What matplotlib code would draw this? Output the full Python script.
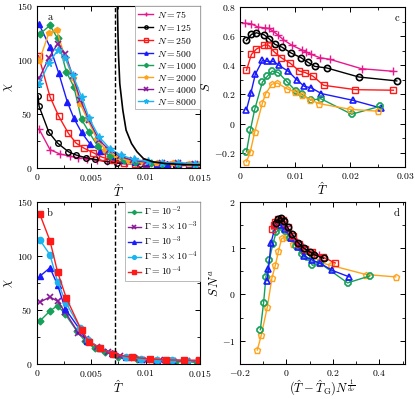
import numpy as np
import matplotlib
matplotlib.use('Agg')
import matplotlib.pyplot as plt
from matplotlib.ticker import FuncFormatter, MultipleLocator, AutoMinorLocator

plt.rcParams['font.family'] = 'serif'
plt.rcParams['font.serif'] = ['cmr10', 'DejaVu Serif']
plt.rcParams['mathtext.fontset'] = 'cm'
plt.rcParams['axes.formatter.use_mathtext'] = True
plt.rcParams['xtick.direction'] = 'in'
plt.rcParams['ytick.direction'] = 'in'
plt.rcParams['xtick.top'] = True
plt.rcParams['ytick.right'] = True
plt.rcParams['axes.linewidth'] = 0.8

# ---------------- panel a: chi vs T for several N ----------------
N_labels = ['75', '125', '250', '500', '1000', '2000', '4000', '8000']

T_n75 = [0.0002, 0.0012, 0.0021, 0.0030, 0.0038, 0.0046, 0.0055, 0.0064, 0.0073, 0.0082,
         0.0092, 0.0102, 0.0112, 0.0122, 0.0132, 0.0142, 0.0150]
chi_n75 = [36, 17, 13, 11, 9.4, 8.7, 7.5, 6.3, 5.3, 4.6, 4.0, 3.5, 3.2, 3.0, 2.8, 2.6, 2.5]

T_n125 = [0.0001, 0.0002, 0.0011, 0.0019, 0.0029, 0.0036, 0.0045, 0.0053, 0.0064, 0.0074,
          0.0095, 0.0114, 0.0128, 0.0140]
chi_n125 = [67, 57, 33, 23, 15, 12, 9.5, 8, 6, 4.5, 3.5, 3.0, 2.5, 2.3]

T_n250 = [0.00015, 0.0012, 0.0020, 0.0029, 0.0036, 0.0043, 0.0052, 0.0060, 0.0070, 0.0080,
          0.0090, 0.0100, 0.0110, 0.0120, 0.0130, 0.0140, 0.0150]
chi_n250 = [104, 66, 48, 32, 23, 18.5, 14, 10, 7, 5, 4, 3.5, 3, 2.8, 2.6, 2.5, 2.5]

T_n500 = [0.0002, 0.0012, 0.0020, 0.0028, 0.0034, 0.0041, 0.0049, 0.0058, 0.0069, 0.0080,
          0.0090, 0.0100, 0.0110, 0.0120, 0.0130, 0.0140, 0.0150]
chi_n500 = [133, 112, 88, 61, 46, 33, 22, 16, 11, 7, 5.5, 4.5, 4, 3.5, 3.2, 3, 3]

T_n1000 = [0.00025, 0.0012, 0.0019, 0.0027, 0.0034, 0.0041, 0.0048, 0.0056, 0.0067, 0.0080,
           0.0090, 0.0105, 0.0115, 0.0130, 0.0145]
chi_n1000 = [124, 132, 120, 89, 75, 45, 33, 20, 11, 7, 5.5, 4.5, 4, 3.5, 3]

T_n2000 = [0.0002, 0.0011, 0.0018, 0.0026, 0.0033, 0.0040, 0.0047, 0.0055, 0.0063, 0.0074,
           0.0085, 0.0098, 0.0110, 0.0125, 0.0140, 0.0150]
chi_n2000 = [99, 125, 128, 102, 83, 59, 44, 27, 17, 10, 6.5, 5.5, 5, 4.5, 4, 4]

T_n4000 = [0.0002, 0.0011, 0.0019, 0.0026, 0.0033, 0.0040, 0.0048, 0.0057, 0.0066, 0.0076,
           0.0088, 0.0100, 0.0115, 0.0130, 0.0145]
chi_n4000 = [83, 102, 115, 106, 85, 63, 44, 26, 17, 11, 7, 5.5, 5, 4.5, 4]

T_n8000 = [0.0002, 0.0011, 0.0019, 0.0026, 0.0033, 0.0041, 0.0048, 0.0057, 0.0067, 0.0077,
           0.0089, 0.0102, 0.0115, 0.0130, 0.0145]
chi_n8000 = [78, 97, 109, 102, 86, 66, 46, 29, 18, 12, 8, 6, 5, 4.5, 4]

# fitted divergence curve in panel a
T_fit = [0.0074, 0.00745, 0.0075, 0.00762, 0.0079, 0.0082, 0.0087, 0.0092, 0.0098,
         0.0107, 0.0119, 0.0138, 0.0150]
chi_fit = [150, 125, 105, 78, 53.5, 35, 22.6, 15, 8.7, 5.6, 4.0, 3.0, 2.8]
T_G = 0.00722

# ---------------- panel b: chi vs T for several Gamma ----------------
G_labels = [r'$\Gamma = 10^{-2}$', r'$\Gamma = 3\times10^{-3}$', r'$\Gamma = 10^{-3}$',
            r'$\Gamma = 3\times10^{-4}$', r'$\Gamma = 10^{-4}$']

T_g1 = [0.0003, 0.0012, 0.0019, 0.0026, 0.0037, 0.0044, 0.0053, 0.0063, 0.0075, 0.0092,
        0.0109, 0.0127, 0.0147]
chi_g1 = [40, 49, 54, 46, 30, 21.5, 14.5, 10.8, 6.8, 4.6, 3, 2.2, 1.5]

T_g2 = [0.00025, 0.0012, 0.0019, 0.0026, 0.0038, 0.0045, 0.0055, 0.0065, 0.0076, 0.0089,
        0.0101, 0.0113, 0.0125, 0.0138, 0.0149]
chi_g2 = [57, 62, 58, 48, 29, 23, 16, 11.4, 7.7, 5.2, 4, 3.4, 3.1, 2.8, 2.8]

T_g3 = [0.00025, 0.0012, 0.0019, 0.0026, 0.0040, 0.0046, 0.0058, 0.0069, 0.0082, 0.0096,
        0.0110, 0.0124, 0.0138, 0.0149]
chi_g3 = [81, 89, 73, 51, 31, 21.5, 15, 10, 6.5, 4.9, 4, 3.4, 3, 3]

T_g4 = [0.00025, 0.0012, 0.0019, 0.0027, 0.0040, 0.0047, 0.0058, 0.0070, 0.0082, 0.0096,
        0.0110, 0.0124, 0.0138, 0.0149]
chi_g4 = [115, 101, 76, 56, 33, 22, 14.5, 9.5, 6.5, 4.6, 3.7, 3.4, 3, 3]

T_g5 = [0.00025, 0.0012, 0.0019, 0.0027, 0.0041, 0.0048, 0.0058, 0.0070, 0.0087, 0.0104,
        0.0119, 0.0135, 0.0149]
chi_g5 = [139, 114, 85, 61, 31, 20, 14.5, 9, 6.2, 4.6, 3.7, 3.4, 3.4]

# ---------------- panel c: S vs T ----------------
Tc_n75 = [0.0009, 0.0021, 0.0033, 0.0045, 0.0053, 0.0061, 0.0070, 0.0079, 0.0095, 0.0112,
          0.0121, 0.0130, 0.0145, 0.0164, 0.0221, 0.0279]
S_n75 = [0.69, 0.686, 0.663, 0.658, 0.654, 0.633, 0.606, 0.576, 0.537, 0.507, 0.491, 0.475,
         0.453, 0.441, 0.377, 0.359]

Tc_n125 = [0.0012, 0.0021, 0.0030, 0.0044, 0.0053, 0.0064, 0.0076, 0.0093, 0.0111, 0.0123,
           0.0136, 0.0158, 0.0216, 0.0285]
S_n125 = [0.571, 0.613, 0.624, 0.61, 0.583, 0.544, 0.526, 0.485, 0.453, 0.423, 0.393, 0.382,
          0.32, 0.293]

Tc_n250 = [0.0012, 0.0021, 0.0030, 0.0044, 0.0052, 0.0062, 0.0075, 0.0091, 0.0108, 0.0119,
           0.0133, 0.0152, 0.0210, 0.0279]
S_n250 = [0.366, 0.475, 0.512, 0.539, 0.539, 0.494, 0.453, 0.416, 0.361, 0.35, 0.325, 0.263,
          0.233, 0.229]

Tc_n500 = [0.0012, 0.0020, 0.0028, 0.0041, 0.0050, 0.0061, 0.0071, 0.0088, 0.0103, 0.0117,
           0.0130, 0.0148, 0.0205, 0.0257]
S_n500 = [0.096, 0.21, 0.338, 0.434, 0.427, 0.427, 0.4, 0.359, 0.302, 0.256, 0.245, 0.206,
          0.16, 0.106]

Tc_n1000 = [0.0012, 0.0019, 0.0027, 0.0041, 0.0050, 0.0059, 0.0070, 0.0086, 0.0102, 0.0113,
            0.0129, 0.0147, 0.0203, 0.0255]
S_n1000 = [-0.194, -0.046, 0.098, 0.286, 0.325, 0.361, 0.35, 0.286, 0.222, 0.2, 0.16, 0.171,
           0.064, 0.119]

Tc_n2000 = [0.0012, 0.0019, 0.0027, 0.0041, 0.0047, 0.0058, 0.0068, 0.0085, 0.0101, 0.0113,
            0.0127, 0.0144, 0.0200, 0.0250]
S_n2000 = [-0.263, -0.194, -0.057, 0.142, 0.206, 0.27, 0.279, 0.24, 0.217, 0.194, 0.165,
           0.137, 0.098, 0.085]

# ---------------- panel d: scaled S ----------------
X_n75 = [-0.03, -0.015, 0.0, 0.02, 0.045, 0.07, 0.095, 0.12, 0.14]
Y_n75 = [1.62, 1.58, 1.48, 1.32, 1.14, 1.02, 0.93, 0.88, 0.85]

X_n125 = [-0.045, -0.034, -0.022, -0.01, 0.005, 0.025, 0.05, 0.075, 0.1, 0.12, 0.16]
Y_n125 = [1.55, 1.63, 1.65, 1.58, 1.45, 1.3, 1.12, 1.0, 0.92, 0.86, 0.78]

X_n250 = [-0.062, -0.055, -0.048, -0.034, -0.015, 0.005, 0.029, 0.054, 0.08, 0.11, 0.156, 0.21]
Y_n250 = [1.41, 1.5, 1.56, 1.63, 1.61, 1.45, 1.27, 1.09, 0.98, 0.91, 0.81, 0.68]

X_n500 = [-0.083, -0.077, -0.066, -0.047, -0.029, -0.007, 0.019, 0.051, 0.077, 0.112, 0.146,
          0.197, 0.27]
Y_n500 = [0.3, 0.54, 1.12, 1.49, 1.5, 1.41, 1.23, 1.03, 0.83, 0.74, 0.67, 0.52, 0.38]

X_n1000 = [-0.112, -0.098, -0.088, -0.073, -0.058, -0.044, -0.025, -0.007, 0.015, 0.04, 0.066,
           0.088, 0.112, 0.146, 0.263, 0.358]
Y_n1000 = [-0.76, -0.18, 0.38, 0.75, 1.1, 1.34, 1.45, 1.38, 1.23, 1.05, 0.87, 0.8, 0.63, 0.67,
           0.25, 0.4]

X_n2000 = [-0.125, -0.108, -0.082, -0.062, -0.047, -0.034, -0.02, 0.0, 0.029, 0.066,
           0.11, 0.146, 0.19, 0.343, 0.47]
Y_n2000 = [-1.2, -0.88, -0.27, 0.36, 0.64, 0.94, 1.21, 1.25, 1.1, 0.96, 0.87, 0.69,
           0.63, 0.43, 0.38]

# styles
col = {'75': '#e8188c', '125': 'black', '250': '#ff1a1a', '500': '#1a1aff',
       '1000': '#16a05a', '2000': '#ffa31a', '4000': '#8b1a9a', '8000': '#1ab4f0'}


def sci_fmt(v, pos):
    if abs(v) < 1e-12:
        return r'$0$'
    return r'$%g$' % v


def style_axes(ax, xmaj, ymaj):
    ax.xaxis.set_major_locator(MultipleLocator(xmaj))
    ax.yaxis.set_major_locator(MultipleLocator(ymaj))
    ax.xaxis.set_minor_locator(AutoMinorLocator(2))
    ax.yaxis.set_minor_locator(AutoMinorLocator(2))
    ax.xaxis.set_major_formatter(FuncFormatter(sci_fmt))
    ax.yaxis.set_major_formatter(FuncFormatter(sci_fmt))
    ax.tick_params(which='major', length=3.5, width=0.7, labelsize=7, pad=3)
    ax.tick_params(which='minor', length=2, width=0.6)


fig = plt.figure(figsize=(4.15, 3.99), dpi=100)
axa = fig.add_axes([0.089, 0.579, 0.393, 0.406])
axc = fig.add_axes([0.578, 0.581, 0.398, 0.401])
axb = fig.add_axes([0.089, 0.088, 0.393, 0.406])
axd = fig.add_axes([0.578, 0.088, 0.398, 0.406])

lw = 1.0
ms = 4

# panel a
series_a = [
    (T_n75, chi_n75, '75', dict(marker='+', ms=6, mfc=col['75'])),
    (T_n125, chi_n125, '125', dict(marker='o', mfc='none', mew=1.0)),
    (T_n250, chi_n250, '250', dict(marker='s', mfc='none', mew=1.0)),
    (T_n500, chi_n500, '500', dict(marker='^')),
    (T_n1000, chi_n1000, '1000', dict(marker='D', ms=3.5)),
    (T_n2000, chi_n2000, '2000', dict(marker='p')),
    (T_n4000, chi_n4000, '4000', dict(marker='x', mew=1.2)),
    (T_n8000, chi_n8000, '8000', dict(marker='*', ms=5.5)),
]
for T, c, n, kw in series_a:
    kw = dict(kw)
    kw.setdefault('ms', ms)
    axa.plot(T, c, color=col[n], lw=lw, label=r'$N = %s$' % n, **kw)
axa.plot(T_fit, chi_fit, color='black', lw=1.2)
axa.axvline(T_G, color='black', ls=(0, (3, 1.5)), lw=1.0)
axa.set_xlim(0, 0.015)
axa.set_ylim(0, 150)
style_axes(axa, 0.005, 50)
axa.set_xlabel(r'$\hat{T}$', fontsize=9, labelpad=0)
axa.set_ylabel(r'$\chi$', fontsize=9, labelpad=1)
axa.text(0.08, 0.93, 'a', transform=axa.transAxes, fontsize=7.5, fontweight='bold',
         va='center', ha='center')
leg = axa.legend(loc='upper right', fontsize=7, handlelength=1.6, handletextpad=0.4,
                 labelspacing=0.2, borderpad=0.3, markerscale=0.6, borderaxespad=0.0,
                 fancybox=False, framealpha=1.0)
leg.get_frame().set_edgecolor('#b0b0b0')
leg.get_frame().set_linewidth(0.6)

# panel b
series_b = [
    (T_g1, chi_g1, '1000', dict(marker='D', ms=3.5)),
    (T_g2, chi_g2, '4000', dict(marker='x', mew=1.2)),
    (T_g3, chi_g3, '500', dict(marker='^')),
    (T_g4, chi_g4, '8000', dict(marker='o')),
    (T_g5, chi_g5, '250', dict(marker='s')),
]
for (T, c, n, kw), lab in zip(series_b, G_labels):
    kw = dict(kw)
    kw.setdefault('ms', 4.5)
    axb.plot(T, c, color=col[n], lw=lw, label=lab, **kw)
axb.axvline(T_G, color='black', ls=(0, (3, 1.5)), lw=1.0)
axb.set_xlim(0, 0.015)
axb.set_ylim(0, 150)
style_axes(axb, 0.005, 50)
axb.set_xlabel(r'$\hat{T}$', fontsize=9, labelpad=0)
axb.set_ylabel(r'$\chi$', fontsize=9, labelpad=1)
axb.text(0.08, 0.93, 'b', transform=axb.transAxes, fontsize=7.5, fontweight='bold',
         va='center', ha='center')
leg = axb.legend(loc='upper right', fontsize=7, handlelength=1.3, handletextpad=0.3,
                 labelspacing=0.15, borderpad=0.3, markerscale=0.6, borderaxespad=0.0,
                 fancybox=False, framealpha=1.0)
leg.get_frame().set_edgecolor('#b0b0b0')
leg.get_frame().set_linewidth(0.6)

# panel c
series_c = [
    (Tc_n75, S_n75, '75', dict(marker='+', ms=6, mew=1.0)),
    (Tc_n125, S_n125, '125', dict(marker='o', mfc='none', mew=1.2)),
    (Tc_n250, S_n250, '250', dict(marker='s', mfc='none', mew=1.0)),
    (Tc_n500, S_n500, '500', dict(marker='^', mfc='none', mew=1.2)),
    (Tc_n1000, S_n1000, '1000', dict(marker='8', mfc='none', mew=1.2)),
    (Tc_n2000, S_n2000, '2000', dict(marker='p', mfc='none', mew=1.0)),
]
for T, s, n, kw in series_c:
    kw = dict(kw)
    kw.setdefault('ms', 4.5)
    axc.plot(T, s, color=col[n], lw=lw, **kw)
axc.set_xlim(0, 0.03)
axc.set_ylim(-0.3, 0.8)
style_axes(axc, 0.01, 0.2)
axc.set_xlabel(r'$\hat{T}$', fontsize=9, labelpad=0)
axc.set_ylabel(r'$S$', fontsize=9, labelpad=1)
axc.text(0.95, 0.93, 'c', transform=axc.transAxes, fontsize=7.5, fontweight='bold',
         va='center', ha='center')

# panel d
series_d = [
    (X_n2000, Y_n2000, '2000', dict(marker='p', mfc='none', mew=1.0)),
    (X_n1000, Y_n1000, '1000', dict(marker='8', mfc='none', mew=1.2)),
    (X_n500, Y_n500, '500', dict(marker='^', mfc='none', mew=1.2)),
    (X_n75, Y_n75, '75', dict(marker='+', ms=6, mew=1.0)),
    (X_n250, Y_n250, '250', dict(marker='s', mfc='none', mew=1.0)),
    (X_n125, Y_n125, '125', dict(marker='o', mfc='none', mew=1.2)),
]
for x, y, n, kw in series_d:
    kw = dict(kw)
    kw.setdefault('ms', 4.5)
    axd.plot(x, y, color=col[n], lw=lw, **kw)
axd.set_xlim(-0.2, 0.51)
axd.set_ylim(-1.5, 2)
style_axes(axd, 0.2, 1)
axd.set_xlabel(r'$(\hat{T}-\hat{T}_{\rm G})N^{\frac{1}{d\nu}}$', fontsize=9, labelpad=0)
axd.set_ylabel(r'$S\,N^{a}$', fontsize=9, labelpad=1)
axd.text(0.95, 0.93, 'd', transform=axd.transAxes, fontsize=7.5, fontweight='bold',
         va='center', ha='center')

fig.savefig('out.png', dpi=100)
